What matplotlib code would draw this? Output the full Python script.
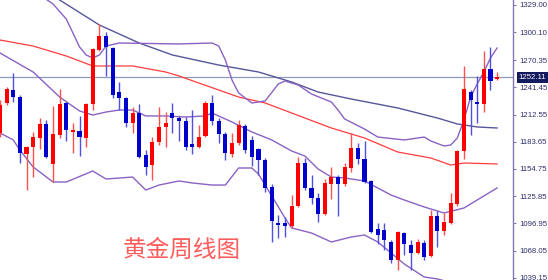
import matplotlib
matplotlib.use("Agg")
import matplotlib.pyplot as plt
import numpy as np

# weekly gold candles (open, high, low, close)
opens = [1193.0, 1224.9, 1238.7, 1231.2, 1170.7, 1178.1, 1187.7, 1202.6, 1160.1, 1190.9,
         1224.9, 1194.1, 1195.1, 1187.7, 1223.8, 1281.2, 1296.1, 1283.3, 1236.5, 1230.2,
         1203.6, 1214.2, 1169.6, 1159.0, 1183.4, 1199.4, 1214.2, 1208.9, 1205.7, 1181.3,
         1178.1, 1189.8, 1224.9, 1205.7, 1191.9, 1170.7, 1182.4, 1200.4, 1185.6, 1176.0,
         1164.3, 1135.6, 1097.4, 1097.4, 1094.2, 1115.4, 1161.1, 1134.6, 1123.9, 1106.9,
         1138.8, 1146.2, 1138.8, 1155.8, 1177.1, 1165.4, 1142.0, 1091.0, 1089.9, 1077.2,
         1058.1, 1086.7, 1074.0, 1065.5, 1076.1, 1062.3, 1104.8, 1088.9, 1097.4, 1117.6,
         1173.9, 1236.5, 1225.9, 1223.8, 1261.0, 1250.4]
highs = [1228.0, 1241.9, 1256.7, 1233.4, 1179.2, 1194.1, 1208.9, 1206.8, 1221.7, 1239.7,
         1225.9, 1203.6, 1211.1, 1224.9, 1283.3, 1308.8, 1300.3, 1284.4, 1247.2, 1231.2,
         1220.6, 1223.8, 1174.9, 1188.7, 1220.6, 1215.3, 1224.9, 1211.1, 1210.0, 1217.4,
         1201.5, 1227.0, 1233.4, 1208.9, 1194.1, 1193.0, 1206.8, 1202.6, 1189.8, 1177.1,
         1166.4, 1138.8, 1105.9, 1103.7, 1127.1, 1167.5, 1166.4, 1148.4, 1129.2, 1144.1,
         1156.9, 1148.4, 1161.1, 1193.0, 1182.4, 1184.5, 1143.1, 1097.4, 1097.4, 1079.3,
         1088.9, 1087.8, 1079.3, 1080.4, 1079.3, 1111.2, 1110.1, 1108.0, 1129.2, 1174.9,
         1264.2, 1238.7, 1253.6, 1280.1, 1284.4, 1257.8]
lows = [1188.7, 1222.7, 1225.9, 1161.1, 1132.4, 1146.2, 1176.0, 1166.4, 1140.9, 1187.7,
        1184.5, 1171.7, 1168.5, 1178.1, 1217.4, 1280.1, 1253.6, 1230.2, 1217.4, 1199.4,
        1193.0, 1166.4, 1148.4, 1143.1, 1180.2, 1178.1, 1193.0, 1184.5, 1174.9, 1170.7,
        1177.1, 1188.7, 1201.5, 1182.4, 1164.3, 1167.5, 1180.2, 1171.7, 1157.9, 1148.4,
        1130.3, 1077.2, 1081.4, 1082.5, 1092.1, 1114.4, 1132.4, 1117.6, 1098.4, 1105.9,
        1122.9, 1104.8, 1136.7, 1151.6, 1160.1, 1139.9, 1086.7, 1075.1, 1068.7, 1054.9,
        1047.4, 1063.4, 1047.4, 1064.4, 1058.1, 1061.3, 1071.9, 1084.6, 1096.3, 1115.4,
        1165.4, 1190.9, 1203.6, 1215.3, 1238.7, 1249.3]
closes = [1222.7, 1239.7, 1231.2, 1171.7, 1178.1, 1188.7, 1202.6, 1167.5, 1191.9, 1223.8,
          1196.2, 1196.2, 1188.7, 1223.8, 1282.2, 1296.1, 1284.4, 1233.4, 1230.2, 1203.6,
          1214.2, 1167.5, 1156.9, 1183.4, 1199.4, 1203.6, 1208.9, 1205.7, 1178.1, 1178.1,
          1188.7, 1224.9, 1205.7, 1191.9, 1171.7, 1182.4, 1201.5, 1174.9, 1167.5, 1164.3,
          1134.6, 1099.5, 1095.2, 1094.2, 1115.4, 1161.1, 1134.6, 1123.9, 1106.9, 1139.9,
          1146.2, 1138.8, 1156.9, 1177.1, 1165.4, 1140.9, 1087.8, 1084.6, 1079.3, 1058.1,
          1087.8, 1075.1, 1065.5, 1077.2, 1061.3, 1104.8, 1088.9, 1098.4, 1118.6, 1173.9,
          1239.7, 1228.1, 1223.8, 1261.0, 1248.2, 1252.11]

# moving averages / bollinger bands, read at candle positions
ma_red_idx = [0, 5, 10, 14, 20, 25, 27, 30, 36, 40, 46, 50, 55, 60, 65, 68, 70, 75]
ma_red = [1291.8, 1285.4, 1274.8, 1264.2, 1264.2, 1257.8, 1253.6, 1246.1, 1231.2, 1224.9,
          1208.9, 1198.3, 1187.7, 1172.8, 1166.4, 1159.0, 1161.1, 1160.1]

ma_navy_idx = [7, 9, 15, 21, 26, 33, 39, 44, 48, 53, 60, 66, 69, 72, 75]
ma_navy = [1344.9, 1334.3, 1307.7, 1288.6, 1275.9, 1265.2, 1257.8, 1247.2, 1236.5, 1229.1,
           1219.6, 1208.9, 1202.6, 1199.4, 1198.3]

bb_mid_idx = [0, 5, 9, 12, 14, 16, 18, 20, 22, 25, 28, 31, 32, 35, 38, 41, 44, 46, 48, 50,
              52, 55, 59, 61, 64, 67, 70, 75]
bb_mid = [1278.0, 1257.8, 1231.2, 1216.4, 1212.1, 1215.3, 1217.4, 1217.4, 1211.1, 1211.1,
          1210.0, 1211.1, 1214.2, 1204.7, 1194.1, 1185.6, 1173.9, 1168.5, 1154.7, 1146.2,
          1145.2, 1142.0, 1127.1, 1121.8, 1114.4, 1108.0, 1113.3, 1134.6]

bb_up_idx = [0, 4, 8, 10, 12, 13, 14, 15, 16, 18, 27, 32, 33, 34, 35, 36, 38, 40, 42, 43,
             45, 47, 50, 51, 52, 55, 57, 61, 64, 65, 67, 68, 69, 70, 71, 72, 73, 74, 75]
bb_up = [1363.0, 1349.2, 1330.1, 1314.1, 1284.4, 1275.9, 1272.7, 1275.9, 1285.4, 1288.6,
         1287.6, 1288.6, 1285.4, 1270.6, 1249.3, 1235.5, 1224.9, 1227.0, 1245.1, 1248.2,
         1244.0, 1234.4, 1225.9, 1217.4, 1207.9, 1197.2, 1188.7, 1185.6, 1188.7, 1184.5,
         1179.2, 1180.2, 1187.7, 1206.8, 1231.2, 1245.1, 1257.8, 1272.7, 1283.3]

bb_low_idx = [0, 2, 3, 5, 8, 10, 14, 16, 20, 22, 24, 27, 29, 32, 34, 36, 38, 39, 41, 43,
              44, 47, 50, 53, 55, 57, 61, 64, 66, 67, 70, 75]
bb_low = [1193.0, 1185.6, 1174.9, 1156.9, 1140.9, 1140.9, 1152.6, 1144.1, 1146.2, 1132.4,
          1137.7, 1142.0, 1139.9, 1137.7, 1137.7, 1155.8, 1155.8, 1149.4, 1126.1, 1102.7,
          1092.1, 1086.7, 1077.2, 1082.5, 1084.6, 1077.2, 1053.8, 1040.0, 1037.9, 1036.0,
          1019.8, 985.9]

tick_vals = [1329.00, 1300.10, 1270.35, 1241.45, 1212.55, 1183.65, 1154.75, 1125.85,
             1096.95, 1068.05, 1039.15]
tick_labels = ["1329.00", "1300.10", "1270.35", "1241.45", "1212.55", "1183.65", "1154.75",
               "1125.85", "1096.95", "1068.05", "1039.15"]
last_price = 1252.11
title = "黄金周线图"

fig = plt.figure(figsize=(5.48, 2.80), dpi=100)
ax = fig.add_axes([0, 0, 513 / 548, 1])

idx = np.arange(len(opens))
o = np.array(opens)
c = np.array(closes)
up = c >= o
col = np.where(up, "#ff0000", "#0000cc")
wick_col = np.where(up, "#ff5050", "#5050e0")

ax.vlines(idx, lows, highs, colors=wick_col, linewidth=1.0, zorder=3)
body_h = np.maximum(np.abs(c - o), 1.8)
body_b = np.minimum(o, c)
ax.bar(idx, body_h, bottom=body_b, width=0.62, color=col, linewidth=0, zorder=4)

# indicator lines
ax.plot(ma_red_idx, ma_red, color="#ff3c3c", lw=0.9, zorder=2)
ax.plot(ma_navy_idx, ma_navy, color="#56569a", lw=1.0, zorder=2)
ax.plot(bb_up_idx, bb_up, color="#8a62c4", lw=1.0, zorder=2)
ax.plot(bb_mid_idx, bb_mid, color="#8a62c4", lw=1.0, zorder=2)
ax.plot(bb_low_idx, bb_low, color="#8a62c4", lw=1.0, zorder=2)

ax.axhline(last_price, color="#8a9ab8", lw=0.9, zorder=1)

ax.set_xlim(0, 77.4)
ax.set_ylim(1036.8, 1334.3)

for s in ["left", "top", "bottom"]:
    ax.spines[s].set_visible(False)
ax.spines["right"].set_color("#8078b8")
ax.spines["right"].set_linewidth(1.0)
ax.set_xticks([])
ax.yaxis.tick_right()
ax.set_yticks(tick_vals)
ax.set_yticklabels(tick_labels)
ax.tick_params(axis="y", direction="out", length=2.5, width=0.8, color="#8078b8",
               labelsize=5.6, labelcolor="#30306e", pad=2)
for lab in ax.get_yticklabels():
    lab.set_fontfamily("Liberation Sans")

ax.annotate(f"{last_price:.2f}", xy=(1.0, last_price), xycoords=("axes fraction", "data"),
            xytext=(4.2, 0), textcoords="offset points", ha="left", va="center",
            fontsize=5.6, family="Liberation Sans", color="white", zorder=10,
            bbox=dict(boxstyle="square,pad=0.25", fc="#141a5e", ec="none"),
            annotation_clip=False)

ax.text(0.355, 0.107, title, transform=ax.transAxes, ha="center", va="center",
        fontsize=17, color="#ff5c5c", family=["Noto Sans CJK SC", "DejaVu Sans"])

fig.savefig("out.png", dpi=100)
